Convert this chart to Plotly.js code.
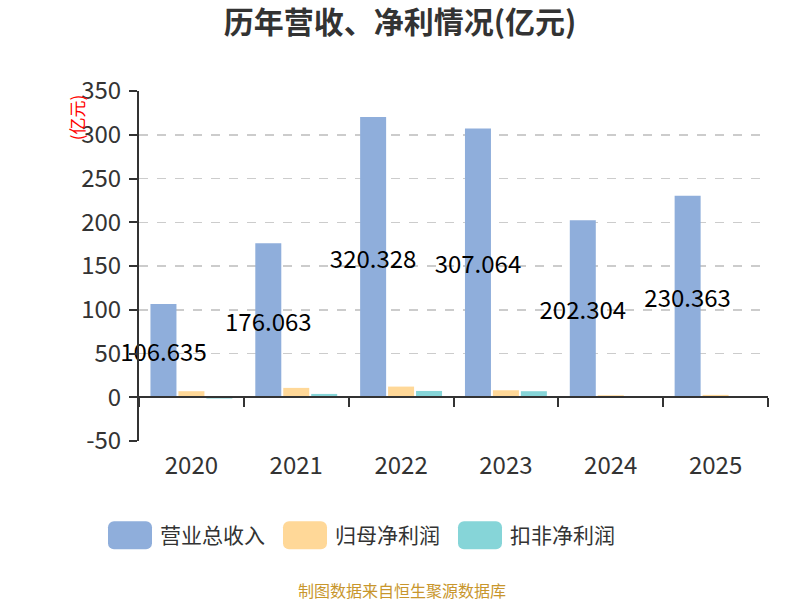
<!DOCTYPE html>
<html>
<head>
<meta charset="utf-8">
<script src="https://cdn.plot.ly/plotly-3.0.1.min.js"></script>
<style>body{margin:0;background:#fff}</style>
</head>
<body>
<div id="graph" style="width:800px;height:600px"></div>
<script>
// data
var years = ['2020', '2021', '2022', '2023', '2024', '2025'];
var revenue = [106.635, 176.063, 320.328, 307.064, 202.304, 230.363];
var netProfit = [6.9, 10.7, 12.2, 8.0, 2.3, 2.7];
var deductedProfit = [-1.5, 3.8, 7.2, 6.9, 0.3, 0.8];
var yTicks = [-50, 0, 50, 100, 150, 200, 250, 300, 350];
var boundaries = [-0.5, 0.5, 1.5, 2.5, 3.5, 4.5, 5.5];

var fontCJK = '"Noto Sans CJK SC", "Noto Sans", sans-serif';

var rev = {
    name: '营业总收入',
    x: years,
    y: revenue,
    type: 'bar',
    marker: {color: '#8FAEDB'},
    text: revenue.map(function (v) { return v.toFixed(3); }),
    textposition: 'inside',
    insidetextanchor: 'middle',
    constraintext: 'none',
    textangle: 0,
    cliponaxis: false,
    insidetextfont: {color: '#000', size: 24, family: fontCJK},
    hoverinfo: 'none'
};

var np = {
    name: '归母净利润',
    x: years,
    y: netProfit,
    type: 'bar',
    marker: {color: '#FFD898'},
    hoverinfo: 'none'
};

var dp = {
    name: '扣非净利润',
    x: years,
    y: deductedProfit,
    type: 'bar',
    marker: {color: '#86D5D8'},
    hoverinfo: 'none'
};

// helper axis drawn along y = 0 with ticks between the categories
var zeroAxis = {
    x: boundaries,
    y: boundaries.map(function () { return 0; }),
    xaxis: 'x2',
    type: 'scatter',
    mode: 'none',
    showlegend: false,
    hoverinfo: 'none'
};

var layout = {
    width: 800,
    height: 600,
    margin: {l: 139, r: 32, t: 91, b: 159},
    paper_bgcolor: '#fff',
    plot_bgcolor: '#fff',
    font: {family: fontCJK, color: '#333'},
    title: {
        text: '<b>历年营收、净利情况(亿元)</b>',
        font: {size: 30, color: '#333', family: fontCJK},
        x: 0.5, xanchor: 'center',
        y: 0.963, yanchor: 'middle'
    },
    barmode: 'group',
    bargap: 0.2,
    bargroupgap: 0.07,
    xaxis: {
        type: 'category',
        showline: false,
        showgrid: false,
        zeroline: false,
        ticks: 'outside',
        ticklen: 3,
        tickcolor: 'rgba(0,0,0,0)',
        tickfont: {size: 24, color: '#333', family: fontCJK},
        fixedrange: true
    },
    xaxis2: {
        overlaying: 'x',
        anchor: 'free',
        position: 0.125,
        range: [-0.5, 5.5],
        showgrid: false,
        zeroline: false,
        showline: true,
        linecolor: '#333',
        linewidth: 2,
        ticks: 'outside',
        tickvals: boundaries,
        ticklen: 9,
        tickwidth: 2,
        tickcolor: '#333',
        showticklabels: false
    },
    yaxis: {
        range: [-50, 350],
        tickvals: yTicks,
        ticktext: yTicks.map(String),
        showline: true,
        linecolor: '#333',
        linewidth: 2,
        ticks: 'outside',
        ticklen: 8,
        tickwidth: 2,
        tickcolor: '#333',
        ticklabelstandoff: 3,
        showgrid: true,
        gridcolor: '#ccc',
        griddash: 'dash',
        gridwidth: 1.5,
        zeroline: false,
        tickfont: {size: 24, color: '#333', family: fontCJK}
    },
    legend: {
        orientation: 'h',
        x: -0.062, xanchor: 'left',
        y: -0.27, yanchor: 'middle',
        font: {size: 21, color: '#333', family: fontCJK},
        itemwidth: 50,
        entrywidth: 110,
        entrywidthmode: 'pixels'
    },
    annotations: [
        {
            text: '(亿元)',
            textangle: -90,
            xref: 'paper', yref: 'paper',
            x: -0.1, y: 0.925,
            xanchor: 'center', yanchor: 'middle',
            showarrow: false,
            font: {size: 17, color: '#f00', family: fontCJK}
        },
        {
            text: '制图数据来自恒生聚源数据库',
            xref: 'paper', yref: 'paper',
            x: 0.418, y: -0.426,
            xanchor: 'center', yanchor: 'middle',
            showarrow: false,
            font: {size: 16, color: '#C8962C', family: fontCJK}
        }
    ]
};

Plotly.newPlot('graph', [rev, np, dp, zeroAxis], layout, {displayModeBar: false, staticPlot: true}).then(function (gd) {
    // widen the legend swatches into rounded blocks like the original
    var paths = gd.querySelectorAll('.legend .legendpoints path');
    paths.forEach(function (p) {
        p.setAttribute('d', 'M-16,-14H16A6,6 0 0 1 22,-8V8A6,6 0 0 1 16,14H-16A6,6 0 0 1 -22,8V-8A6,6 0 0 1 -16,-14Z');
        p.style.strokeWidth = '0px';
    });
});
</script>
</body>
</html>
